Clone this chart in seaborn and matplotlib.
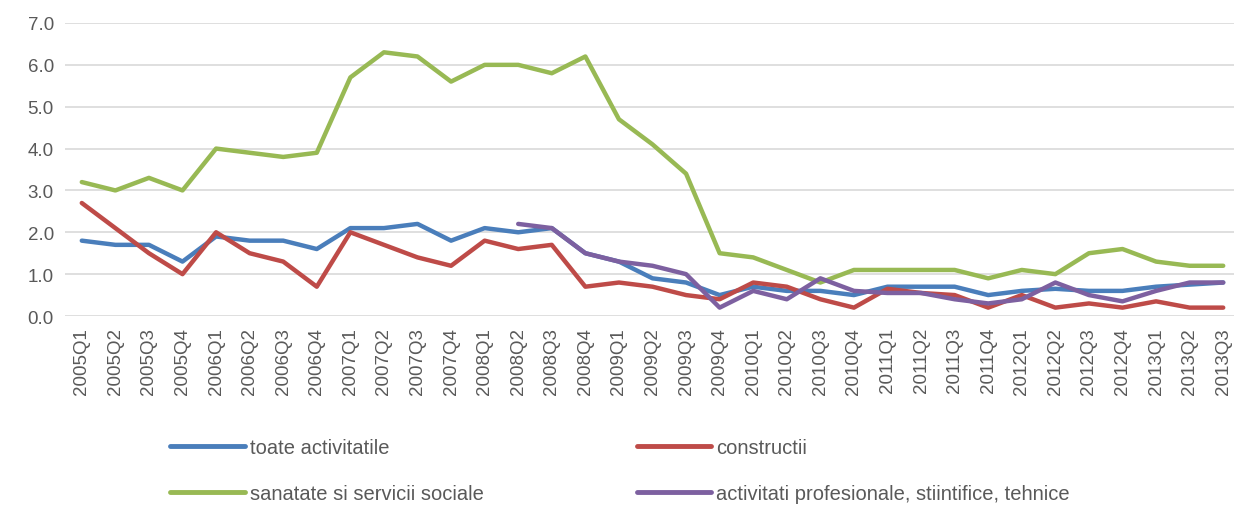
import numpy as np
import pandas as pd
import seaborn as sns
import matplotlib
matplotlib.use("Agg")
import matplotlib.pyplot as plt

# --- date ---
trimestre = [f"{an}Q{q}" for an in range(2005, 2014) for q in range(1, 5)][:35]

toate = [1.8, 1.7, 1.7, 1.3, 1.9, 1.8, 1.8, 1.6, 2.1, 2.1, 2.2, 1.8, 2.1, 2.0, 2.1, 1.5,
         1.3, 0.9, 0.8, 0.5, 0.7, 0.6, 0.6, 0.5, 0.7, 0.7, 0.7, 0.5, 0.6, 0.65, 0.6, 0.6,
         0.7, 0.75, 0.8]
constructii = [2.7, 2.1, 1.5, 1.0, 2.0, 1.5, 1.3, 0.7, 2.0, 1.7, 1.4, 1.2, 1.8, 1.6, 1.7, 0.7,
               0.8, 0.7, 0.5, 0.4, 0.8, 0.7, 0.4, 0.2, 0.65, 0.55, 0.5, 0.2, 0.5, 0.2, 0.3, 0.2,
               0.35, 0.2, 0.2]
sanatate = [3.2, 3.0, 3.3, 3.0, 4.0, 3.9, 3.8, 3.9, 5.7, 6.3, 6.2, 5.6, 6.0, 6.0, 5.8, 6.2,
            4.7, 4.1, 3.4, 1.5, 1.4, 1.1, 0.8, 1.1, 1.1, 1.1, 1.1, 0.9, 1.1, 1.0, 1.5, 1.6,
            1.3, 1.2, 1.2]
profesionale = [np.nan] * 13 + [2.2, 2.1, 1.5, 1.3, 1.2, 1.0, 0.2, 0.6, 0.4, 0.9, 0.6, 0.55,
                                0.55, 0.4, 0.3, 0.4, 0.8, 0.5, 0.35, 0.6, 0.8, 0.8]

serii = ["toate activitatile", "constructii", "sanatate si servicii sociale",
         "activitati profesionale, stiintifice, tehnice"]
culori = ["#4a7ebb", "#be4b48", "#98b954", "#7d60a0"]

df = pd.DataFrame({"trimestru": trimestre,
                   serii[0]: toate, serii[1]: constructii,
                   serii[2]: sanatate, serii[3]: profesionale})
df_long = df.melt(id_vars="trimestru", var_name="serie", value_name="valoare").dropna()

# --- stil ---
sns.set_theme(style="white")
plt.rcParams["font.family"] = ["Liberation Sans Narrow", "Liberation Sans", "DejaVu Sans"]
gri = "#595959"

fig = plt.figure(figsize=(12.34, 5.06), dpi=100)
ax = fig.add_axes([65 / 1234, 1 - 317 / 506, 1175 / 1234, 293 / 506])

sns.lineplot(data=df_long, x="trimestru", y="valoare", hue="serie", hue_order=serii,
             palette=culori, linewidth=3.2, sort=False, ax=ax, legend=False)

ax.set_xlim(-0.5, 34.5)
ax.set_ylim(0, 7)
ax.set_yticks(np.arange(0, 7.5, 1.0))
ax.set_yticklabels([f"{v:.1f}" for v in np.arange(0, 7.5, 1.0)])
ax.set_xticks(range(len(trimestre)))
ax.set_xticklabels(trimestre, rotation=90)
ax.tick_params(axis="both", colors=gri, labelsize=13.5, length=0, pad=8)
ax.tick_params(axis="y", pad=8)
ax.grid(axis="y", color="#d9d9d9", linewidth=1.2)
ax.set_axisbelow(True)
ax.set_xlabel("")
ax.set_ylabel("")
for s in ax.spines.values():
    s.set_visible(False)

# legenda
handles = [plt.Line2D([], [], color=c, linewidth=3.5) for c in culori]
ordine = [0, 2, 1, 3]
leg = fig.legend([handles[i] for i in ordine], [serii[i] for i in ordine],
                 loc="upper left", bbox_to_anchor=(152 / 1234, 1 - 421 / 506), ncol=2,
                 frameon=False, fontsize=14.5, handlelength=3.7, handletextpad=0.25,
                 columnspacing=7.6, labelspacing=1.35, labelcolor=gri)

fig.savefig("out.png", dpi=100, facecolor="white")
